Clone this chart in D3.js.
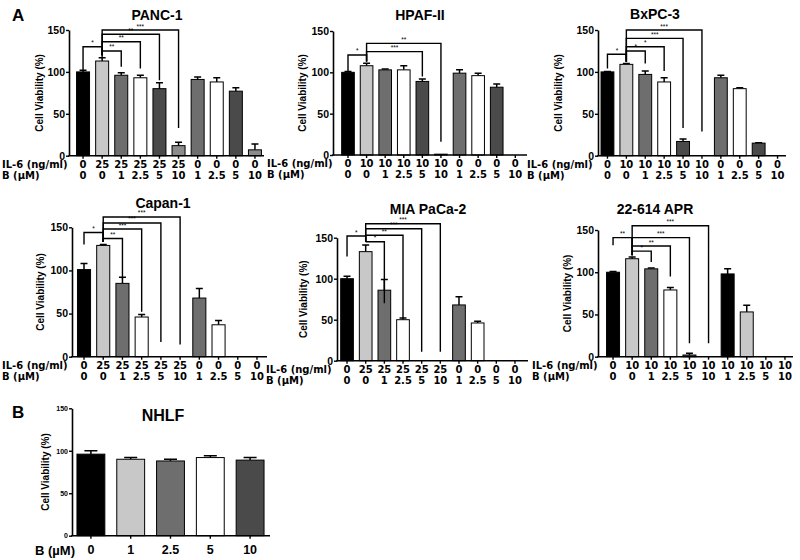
<!DOCTYPE html>
<html>
<head>
<meta charset="utf-8">
<script src="https://cdn.jsdelivr.net/npm/d3@7"></script>
<style>
  body { margin: 0; background: #fff; }
  svg text { font-family: "Liberation Sans", Arial, sans-serif; font-weight: bold; fill: #000; }
</style>
</head>
<body>
<svg id="fig" width="800" height="560"></svg>
<script>
// ---- tick labels ----
const il6Panc = ["0","25","25","25","25","25","0","0","0","0"];
const il6Hpaf = ["0","10","10","10","10","10","0","0","0","0"];
const il6Bx   = ["0","10","10","10","10","10","0","0","0","0"];
const il6Cap  = ["0","25","25","25","25","25","0","0","0","0"];
const il6Mia  = ["0","25","25","25","25","25","0","0","0","0"];
const il6Apr  = ["0","10","10","10","10","10","10","10","10","10"];
const bConc   = ["0","0","1","2.5","5","10","1","2.5","5","10"];
const bNhlf   = ["0","1","2.5","5","10"];

// ---- values (% viability) and SEM ----
const pancVals = [100,113,96,93,80,12,91,88,77,7];
const pancErr  = [2,4,3,3,7,4,3,5,4,7];
const hpafVals = [100,108,103,103,89,1,99,96,82,0];
const hpafErr  = [1,3,1,5,3,0,4,3,4,0];
const bxVals   = [100,109,97,88,17,0,93,80,15,0];
const bxErr    = [0.5,1,4,5,3,0,3,1,0.5,0];
const capVals  = [101,129,85,46,0,0,68,37,0,0];
const capErr   = [7,1,7,3,0,0,11,5,0,0];
const miaVals  = [100,133,86,50,0,0,68,46,0,0];
const miaErr   = [3,8,13,2,0,0,10,2,0,0];
const aprVals  = [100,116,104,79,2,0,98,53,0,0];
const aprErr   = [1,2,1,3,2,0,6,8,0,0];
const nhlfVals = [96,90,88,92,89];
const nhlfErr  = [4,2,2,2,3];

// significance brackets: [from, to, level, legFrom, legTo, label] in % units
const pancSig = [[0,1,130,102,117,"*"],[1,2,125,120,106,"**"],[1,3,136,120,104,"**"],[1,4,145,120,90,"**"],[1,5,150,120,33,"***"]];
const hpafSig = [[0,1,121,101,113,"*"],[1,4,125,113,95,"***"],[1,5,135,113,16,"**"]];
const bxSig   = [[0,1,121,104,112,"*"],[1,2,125,112,110,"*"],[1,3,130,112,101,"*"],[1,4,140,112,33,"***"],[1,5,150,112,29,"***"]];
const capSig  = [[0,1,144,130,133,"*"],[1,2,137,133,90,"**"],[1,3,148,133,52,"***"],[1,4,155,133,17,"***"],[1,5,162,133,14,"***"]];
const miaSig  = [[0,1,152,127,145,"*"],[1,2,145,145,70,"*"],[1,3,153,145,52,"**"],[1,4,161,145,11,"***"],[1,5,167,145,11,"***"]];
const aprSig  = [[0,1,141,132,129,"**"],[1,2,125,120,112,"*"],[1,3,131,120,95,"**"],[1,4,141,120,16,"***"],[1,5,155,120,16,"***"]];

// ---- bar fills ----
const K = "#000", LG = "#c8c8c8", MG = "#6e6e6e", W = "#fff", DG = "#4a4a4a", G8 = "#8c8c8c";
const pancCol = [K,LG,MG,W,DG,G8,MG,W,DG,G8];
const stdCol  = [K,LG,MG,W,DG,LG,MG,W,DG,W];
const aprCol  = [K,LG,MG,W,DG,W,K,LG,W,W];
const nhlfCol = [K,LG,MG,W,DG];

const svg = d3.select("#fig");
const WIDE = '"DejaVu Sans", Verdana, sans-serif';

const panels = [
  {title:"PANC-1", vals:pancVals, errs:pancErr, top:il6Panc, bot:bConc, col:pancCol, sig:pancSig,
   ax:69, end:264, band:[73.5,264.5], y0:155.7, y150:30, tx:157, ty:20, lx:39, rx:2},
  {title:"HPAF-II", vals:hpafVals, errs:hpafErr, top:il6Hpaf, bot:bConc, col:stdCol, sig:hpafSig,
   ax:333, end:527, band:[338.7,524.6], y0:155, y150:31, tx:420, ty:20, lx:302, rx:267},
  {title:"BxPC-3", vals:bxVals, errs:bxErr, top:il6Bx, bot:bConc, col:stdCol, sig:bxSig,
   ax:598, end:786, band:[598,787], y0:155.7, y150:30, tx:655, ty:18.5, lx:558, rx:527},
  {title:"Capan-1", vals:capVals, errs:capErr, top:il6Cap, bot:bConc, col:stdCol, sig:capSig,
   ax:72, end:267, band:[74.4,266.6], y0:356.7, y150:227.3, tx:163, ty:207.5, lx:40, rx:2},
  {title:"MIA PaCa-2", vals:miaVals, errs:miaErr, top:il6Mia, bot:bConc, col:stdCol, sig:miaSig,
   ax:337, end:528, band:[337.7,524.3], y0:360.7, y150:237.7, tx:428, ty:213.5, lx:303, rx:266},
  {title:"22-614 APR", vals:aprVals, errs:aprErr, top:il6Apr, bot:bConc, col:aprCol, sig:aprSig,
   ax:598, end:793, band:[603.5,794.5], y0:356.7, y150:230, tx:655, ty:213.5, lx:567, rx:532}
];

function drawPanel(p, opt) {
  const pad = opt.pad;
  const x = d3.scaleBand().domain(d3.range(p.vals.length)).range(p.band)
    .paddingInner(pad).paddingOuter(pad / 2);
  const y = d3.scaleLinear().domain([0, 150]).range([p.y0, p.y150]);
  const g = svg.append("g");
  const cx = i => x(i) + x.bandwidth() / 2;

  const rows = p.vals.map((v, i) => ({v, i, e: p.errs[i]})).filter(d => d.v > 0);

  // error bars (upper only)
  g.selectAll("path.err").data(rows.filter(d => d.e > 0)).join("path")
    .attr("d", d => `M${cx(d.i)},${y(d.v)}V${y(d.v + d.e)}M${cx(d.i) - opt.cap},${y(d.v + d.e)}H${cx(d.i) + opt.cap}`)
    .attr("stroke", "#000").attr("stroke-width", 1.5).attr("fill", "none");

  g.selectAll("rect.bar").data(rows).join("rect")
    .attr("x", d => x(d.i)).attr("y", d => y(d.v))
    .attr("width", x.bandwidth()).attr("height", d => y(0) - y(d.v))
    .attr("fill", d => p.col[d.i]).attr("stroke", "#000").attr("stroke-width", 1);

  // y axis
  const ya = g.append("g").attr("transform", `translate(${p.ax},0)`)
    .call(d3.axisLeft(y).tickValues([0, 50, 100, 150]).tickSize(3).tickPadding(1).tickSizeOuter(0));
  ya.select(".domain").attr("stroke-width", 1.6);
  ya.selectAll(".tick line").attr("stroke-width", 1.4);
  ya.selectAll("text").style("font-size", opt.yFont + "px").style("font-family", null);

  // x axis: first label row from the axis, second row appended to each tick
  const base1 = 3 + opt.xPad + 0.71 * opt.xFont;
  const xa = g.append("g").attr("transform", `translate(0,${p.y0})`)
    .call(d3.axisBottom(x).tickSize(3).tickPadding(opt.xPad).tickFormat(i => p.top[i]));
  xa.select(".domain").remove();
  xa.selectAll(".tick line").attr("stroke-width", 1.4);
  xa.selectAll("text").style("font-size", opt.xFont + "px").style("font-family", opt.xFamily);
  if (p.bot) {
    xa.selectAll(".tick").append("text")
      .attr("y", base1 + opt.rowGap)
      .attr("text-anchor", "middle").style("font-size", opt.xFont + "px").style("font-family", opt.xFamily)
      .text(i => p.bot[i]);
  }
  g.append("line").attr("x1", p.ax - 0.8).attr("x2", p.end)
    .attr("y1", p.y0).attr("y2", p.y0).attr("stroke", "#000").attr("stroke-width", 1.6);

  // row labels
  if (p.bot) {
    g.append("text").attr("x", p.rx).attr("y", p.y0 + base1)
      .style("font-size", opt.xFont + "px").style("font-family", opt.xFamily).text("IL-6 (ng/ml)");
    g.append("text").attr("x", p.rx).attr("y", p.y0 + base1 + opt.rowGap)
      .style("font-size", opt.xFont + "px").style("font-family", opt.xFamily).text("B (\u00b5M)");
  }

  // axis title
  g.append("text").attr("transform", `translate(${p.lx},${y(75)}) rotate(-90)`)
    .attr("text-anchor", "middle").attr("dominant-baseline", "central")
    .style("font-size", "10px").text("Cell Viability (%)");

  // panel title
  g.append("text").attr("x", p.tx).attr("y", p.ty).attr("text-anchor", "middle")
    .style("font-size", opt.titleFont + "px").text(p.title);

  // significance brackets
  if (p.sig) {
    g.selectAll("path.sig").data(p.sig).join("path")
      .attr("d", s => `M${cx(s[0])},${y(s[3])}V${y(s[2])}H${cx(s[1])}V${y(s[4])}`)
      .attr("fill", "none").attr("stroke", "#000").attr("stroke-width", 1.4);
    g.selectAll("text.sig").data(p.sig).join("text")
      .attr("x", s => (cx(s[0]) + cx(s[1])) / 2).attr("y", s => y(s[2]) - 1.5)
      .attr("text-anchor", "middle").style("font-size", "6.5px").style("font-weight", "normal")
      .text(s => s[5]);
  }
  return {x, y};
}

panels.forEach(p => drawPanel(p, {pad: 0.32, cap: 3.5, yFont: 10.5, xFont: 10, xFamily: WIDE, xPad: 2.2, rowGap: 11, titleFont: 14}));

// panel B: NHLF
drawPanel({title:"NHLF", vals:nhlfVals, errs:nhlfErr, top:bNhlf, bot:null, col:nhlfCol, sig:null,
  ax:72, end:270, band:[71,270], y0:535.7, y150:408.3, tx:163, ty:421, lx:45, rx:35},
  {pad: 0.3, cap: 6.5, yFont: 7, xFont: 12.5, xFamily: null, xPad: 6, rowGap: 0, titleFont: 16});
svg.append("text").attr("x", 35).attr("y", 554.5).style("font-size", "13px").text("B (\u00b5M)");

// panel letters
svg.append("text").attr("x", 12).attr("y", 21).style("font-size", "17px").text("A");
svg.append("text").attr("x", 12).attr("y", 418).style("font-size", "17px").text("B");
</script>
</body>
</html>
